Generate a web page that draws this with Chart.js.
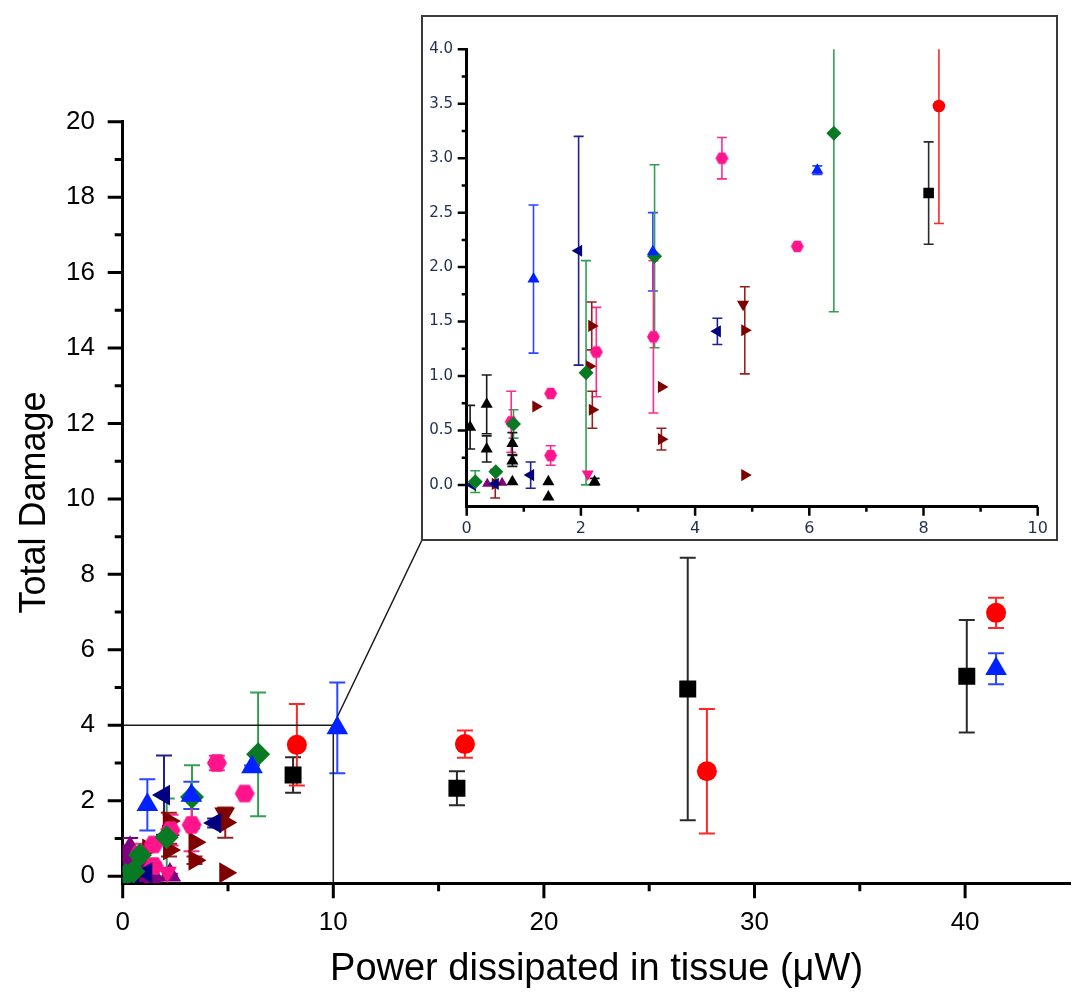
<!DOCTYPE html>
<html>
<head>
<meta charset="utf-8">
<script src="https://cdn.jsdelivr.net/npm/chart.js@4.4.1/dist/chart.umd.min.js"></script>
<style>
  html, body { margin: 0; padding: 0; background: #fff; }
  #wrap { position: relative; width: 1076px; height: 1000px; }
  #main { position: absolute; left: 0; top: 0; }
  #insetBox { position: absolute; left: 421px; top: 15px; width: 637px; height: 526px;
              border: 2px solid #3a3a3a; box-sizing: border-box; background: #fff; }
  #inset { display: block; }
</style>
</head>
<body>
<div id="wrap">
  <canvas id="main" width="1076" height="1000"></canvas>
  <div id="insetBox"><canvas id="inset" width="633" height="522"></canvas></div>
</div>
<script>
// black squares
const sqX = [8.09, 15.87, 26.83, 40.08];
const sqY = [2.68, 2.33, 4.96, 5.30];
const sqErr = [0.47, 0.45, 3.48, 1.49];
// red circles
const circX = [8.27, 16.25, 27.74, 41.47];
const circY = [3.48, 3.50, 2.78, 6.98];
const circErr = [1.08, 0.36, 1.65, 0.40];
// blue up triangles
const triX = [1.17, 3.26, 6.14, 10.19, 41.47];
const triY = [1.89, 2.14, 2.89, 3.93, 5.50];
const triErr = [0.68, 0.36, 0.04, 1.20, 0.41];
// green diamonds
const diaX = [0.15, 0.51, 0.82, 2.09, 3.29, 6.43];
const diaY = [0.03, 0.12, 0.56, 1.03, 2.10, 3.23];
const diaErr = [0.10, 0, 0.13, 1.03, 0.84, 1.64];
// navy left triangles
const leftX = [0.10, 0.50, 1.12, 1.96, 4.39];
const leftY = [0.00, 0.01, 0.09, 2.15, 1.41];
const leftErr = [0, 0, 0.12, 1.05, 0.12];
// pink hexagons
const hexX = [0.78, 1.47, 1.47, 2.27, 3.27, 4.47, 5.79];
const hexY = [0.58, 0.84, 0.27, 1.22, 1.36, 3.00, 2.19];
const hexErr = [0.28, 0, 0.09, 0.41, 0.70, 0.19, 0];
// pink down triangle
const pinkDownX = [2.12];
const pinkDownY = [0.10];
const pinkDownErr = [0];
// dark red right triangles
const rightX = [0.50, 1.21, 2.15, 2.19, 2.20, 3.41, 3.41, 4.87, 4.87];
const rightY = [0.01, 0.72, 1.09, 1.46, 0.69, 0.90, 0.42, 1.42, 0.09];
const rightErr = [0.13, 0, 0, 0.22, 0.17, 0, 0.10, 0.40, 0];
// dark red down triangle
const downX = [4.84];
const downY = [1.66];
const downErr = [0];
// small up triangles (purple in main plot, black in inset)
const smallX = [0.06, 0.35, 0.35, 0.80, 0.80, 0.80, 1.43, 1.43, 2.24];
const smallY = [0.53, 0.74, 0.33, 0.38, 0.22, 0.03, 0.03, -0.11, 0.03];
const smallErr = [0.20, 0.27, 0.12, 0.10, 0.05, 0, 0, 0, 0.03];
// purple points
const purpX = [0.36, 0.62];
const purpY = [0.01, 0.02];
const purpErr = [0, 0];

// ticks
const mainXTicks = [0, 10, 20, 30, 40];
const mainXMinor = [5, 15, 25, 35];
const mainYTicks = [0, 2, 4, 6, 8, 10, 12, 14, 16, 18, 20];
const mainYMinor = [1, 3, 5, 7, 9, 11, 13, 15, 17, 19];
const insetXTicks = [0, 2, 4, 6, 8, 10];
const insetXMinor = [1, 3, 5, 7, 9];
const insetYTicks = [0, 0.5, 1, 1.5, 2, 2.5, 3, 3.5, 4];
const insetYMinor = [0.25, 0.75, 1.25, 1.75, 2.25, 2.75, 3.25, 3.75];

function hexImage(r, color) {
  const c = document.createElement('canvas');
  c.width = c.height = Math.ceil(2 * r + 2);
  const g = c.getContext('2d');
  g.fillStyle = color;
  g.beginPath();
  for (let i = 0; i < 6; i++) {
    const a = Math.PI / 3 * i;
    const px = c.width / 2 + r * Math.cos(a), py = c.height / 2 + r * Math.sin(a);
    if (i) g.lineTo(px, py); else g.moveTo(px, py);
  }
  g.closePath();
  g.fill();
  return c;
}

const series = [
  { xs: sqX, ys: sqY, es: sqErr, style: 'rect', rot: 0, color: '#000000', err: '#2a2a2a', r: [12, 7.5] },
  { xs: circX, ys: circY, es: circErr, style: 'circle', rot: 0, color: '#ff0000', err: '#ff2626', r: [10, 6.3] },
  { xs: triX, ys: triY, es: triErr, style: 'triangle', rot: 0, color: '#0022ff', err: '#2a46ff', r: [12.5, 7] },
  { xs: diaX, ys: diaY, es: diaErr, style: 'rectRot', rot: 0, color: '#087a24', err: '#32a050', r: [12, 7.5] },
  { xs: leftX, ys: leftY, es: leftErr, style: 'triangle', rot: 270, color: '#000080', err: '#202090', r: [12, 7] },
  { xs: hexX, ys: hexY, es: hexErr, style: 'hex', rot: 0, color: '#ff148c', err: '#ff2a90', r: [10, 6.5] },
  { xs: pinkDownX, ys: pinkDownY, es: pinkDownErr, style: 'triangle', rot: 180, color: '#ff148c', err: '#ff2a90', r: [11, 7] },
  { xs: rightX, ys: rightY, es: rightErr, style: 'triangle', rot: 90, color: '#7f0000', err: '#962020', r: [12, 7] },
  { xs: downX, ys: downY, es: downErr, style: 'triangle', rot: 180, color: '#7f0000', err: '#962020', r: [12, 7] },
  { xs: smallX, ys: smallY, es: smallErr, style: 'triangle', rot: 0, color: ['#800080', '#000000'], err: ['#800080', '#1a1a1a'], r: [13, 7] },
  { xs: purpX, ys: purpY, es: purpErr, style: 'triangle', rot: 0, color: '#800080', err: '#800080', r: [13, 6] }
];

function buildDatasets(k) {
  return series.map(s => {
    const color = Array.isArray(s.color) ? s.color[k] : s.color;
    const err = Array.isArray(s.err) ? s.err[k] : s.err;
    const style = s.style === 'hex' ? hexImage(s.r[k], color) : s.style;
    return {
      data: s.xs.map((x, i) => ({ x: x, y: s.ys[i] })),
      errors: s.es,
      errColor: err,
      pointStyle: style,
      rotation: s.rot,
      pointRadius: s.r[k],
      pointBackgroundColor: color,
      pointBorderColor: color,
      pointBorderWidth: 0,
      showLine: false
    };
  });
}

const errorBars = {
  id: 'errorBars',
  beforeDatasetsDraw(chart, args, opts) {
    const ctx = chart.ctx, xs = chart.scales.x, ys = chart.scales.y, a = chart.chartArea;
    ctx.save();
    ctx.beginPath();
    ctx.rect(a.left, a.top, a.right - a.left, a.bottom - a.top);
    ctx.clip();
    ctx.lineWidth = opts.width;
    chart.data.datasets.forEach(ds => {
      ctx.strokeStyle = ds.errColor;
      ds.data.forEach((p, i) => {
        const e = ds.errors[i];
        if (!e) return;
        const px = xs.getPixelForValue(p.x);
        const top = ys.getPixelForValue(p.y + e), bot = ys.getPixelForValue(p.y - e);
        ctx.beginPath();
        ctx.moveTo(px, top); ctx.lineTo(px, bot);
        ctx.moveTo(px - opts.cap, top); ctx.lineTo(px + opts.cap, top);
        ctx.moveTo(px - opts.cap, bot); ctx.lineTo(px + opts.cap, bot);
        ctx.stroke();
      });
    });
    ctx.restore();
  }
};

const tickMarks = {
  id: 'tickMarks',
  afterDraw(chart, args, opts) {
    const ctx = chart.ctx, xs = chart.scales.x, ys = chart.scales.y, a = chart.chartArea;
    ctx.save();
    ctx.strokeStyle = '#000';
    ctx.lineWidth = opts.width;
    ctx.beginPath();
    opts.yMajor.forEach(v => { const p = ys.getPixelForValue(v); ctx.moveTo(a.left, p); ctx.lineTo(a.left - opts.major, p); });
    opts.yMinor.forEach(v => { const p = ys.getPixelForValue(v); ctx.moveTo(a.left, p); ctx.lineTo(a.left - opts.minor, p); });
    opts.xMajor.forEach(v => { const p = xs.getPixelForValue(v); ctx.moveTo(p, a.bottom); ctx.lineTo(p, a.bottom + opts.major); });
    opts.xMinor.forEach(v => { const p = xs.getPixelForValue(v); ctx.moveTo(p, a.bottom); ctx.lineTo(p, a.bottom + opts.minor); });
    ctx.stroke();
    ctx.restore();
  }
};

const zoomGuide = {
  id: 'zoomGuide',
  beforeDatasetsDraw(chart, args, opts) {
    const ctx = chart.ctx, xs = chart.scales.x, ys = chart.scales.y, a = chart.chartArea;
    const box = document.getElementById('insetBox');
    const px = xs.getPixelForValue(opts.x), py = ys.getPixelForValue(opts.y);
    ctx.save();
    ctx.strokeStyle = '#1a1a1a';
    ctx.lineWidth = 1.5;
    ctx.beginPath();
    ctx.moveTo(a.left, py); ctx.lineTo(px, py); ctx.lineTo(px, a.bottom);
    ctx.moveTo(px, py); ctx.lineTo(box.offsetLeft + 1, box.offsetTop + box.offsetHeight - 1);
    ctx.stroke();
    ctx.restore();
  }
};

// drop the automatic label overflow padding so the axis spans the exact width
function fixX(h) {
  return s => { s.height = h; s.paddingLeft = 0; s.paddingRight = 0; };
}

const mainFont = "'Liberation Sans', Arial, sans-serif";
const insetFont = "'DejaVu Sans', Verdana, sans-serif";

new Chart(document.getElementById('main'), {
  type: 'scatter',
  data: { datasets: buildDatasets(0) },
  options: {
    responsive: false,
    animation: false,
    events: [],
    layout: { autoPadding: false, padding: { top: 121.7, right: 5.6, bottom: 0, left: 0 } },
    plugins: {
      legend: { display: false },
      tooltip: { enabled: false },
      errorBars: { width: 2, cap: 8 },
      tickMarks: { width: 3, major: 15, minor: 8, xMajor: mainXTicks, xMinor: mainXMinor, yMajor: mainYTicks, yMinor: mainYMinor },
      zoomGuide: { x: 10, y: 4 }
    },
    scales: {
      x: {
        type: 'linear', min: 0, max: 45,
        afterBuildTicks: s => { s.ticks = mainXTicks.map(v => ({ value: v })); },
        afterFit: fixX(116.7),
        grid: { display: false, drawTicks: false },
        border: { display: true, color: '#000', width: 3 },
        ticks: { padding: 24, color: '#000', font: { family: mainFont, size: 26 }, maxRotation: 0 },
        title: { display: true, text: 'Power dissipated in tissue (μW)', color: '#000',
                 font: { family: mainFont, size: 38 }, padding: { top: 0, bottom: 8 } }
      },
      y: {
        type: 'linear', min: -0.19, max: 20,
        afterBuildTicks: s => { s.ticks = mainYTicks.map(v => ({ value: v })); },
        afterFit: s => { s.width = 122.7; },
        grid: { display: false, drawTicks: false },
        border: { display: true, color: '#000', width: 3 },
        ticks: { padding: 27.7, color: '#000', font: { family: mainFont, size: 26 } },
        title: { display: true, text: 'Total Damage', color: '#000',
                 font: { family: mainFont, size: 36 }, padding: { top: 13, bottom: 0 } }
      }
    }
  },
  plugins: [errorBars, tickMarks, zoomGuide]
});

new Chart(document.getElementById('inset'), {
  type: 'scatter',
  data: { datasets: buildDatasets(1) },
  options: {
    responsive: false,
    animation: false,
    events: [],
    layout: { autoPadding: false, padding: { top: 32.3, right: 18.3, bottom: 0, left: 0 } },
    plugins: {
      legend: { display: false },
      tooltip: { enabled: false },
      errorBars: { width: 1.6, cap: 5 },
      tickMarks: { width: 2.5, major: 9, minor: 5, xMajor: insetXTicks, xMinor: insetXMinor, yMajor: insetYTicks, yMinor: insetYMinor }
    },
    scales: {
      x: {
        type: 'linear', min: 0, max: 10,
        afterBuildTicks: s => { s.ticks = insetXTicks.map(v => ({ value: v })); },
        afterFit: fixX(32.3),
        grid: { display: false, drawTicks: false },
        border: { display: true, color: '#000', width: 3 },
        ticks: { padding: 12.3, color: '#1f2f4f', font: { family: insetFont, size: 16 }, maxRotation: 0 }
      },
      y: {
        type: 'linear', min: -0.2, max: 4,
        afterBuildTicks: s => { s.ticks = insetYTicks.map(v => ({ value: v })); },
        afterFit: s => { s.width = 43.7; },
        grid: { display: false, drawTicks: false },
        border: { display: true, color: '#000', width: 3 },
        ticks: { padding: 13.7, color: '#1f2f4f', font: { family: insetFont, size: 15 },
                 callback: v => v.toFixed(1) }
      }
    }
  },
  plugins: [errorBars, tickMarks]
});
</script>
</body>
</html>
